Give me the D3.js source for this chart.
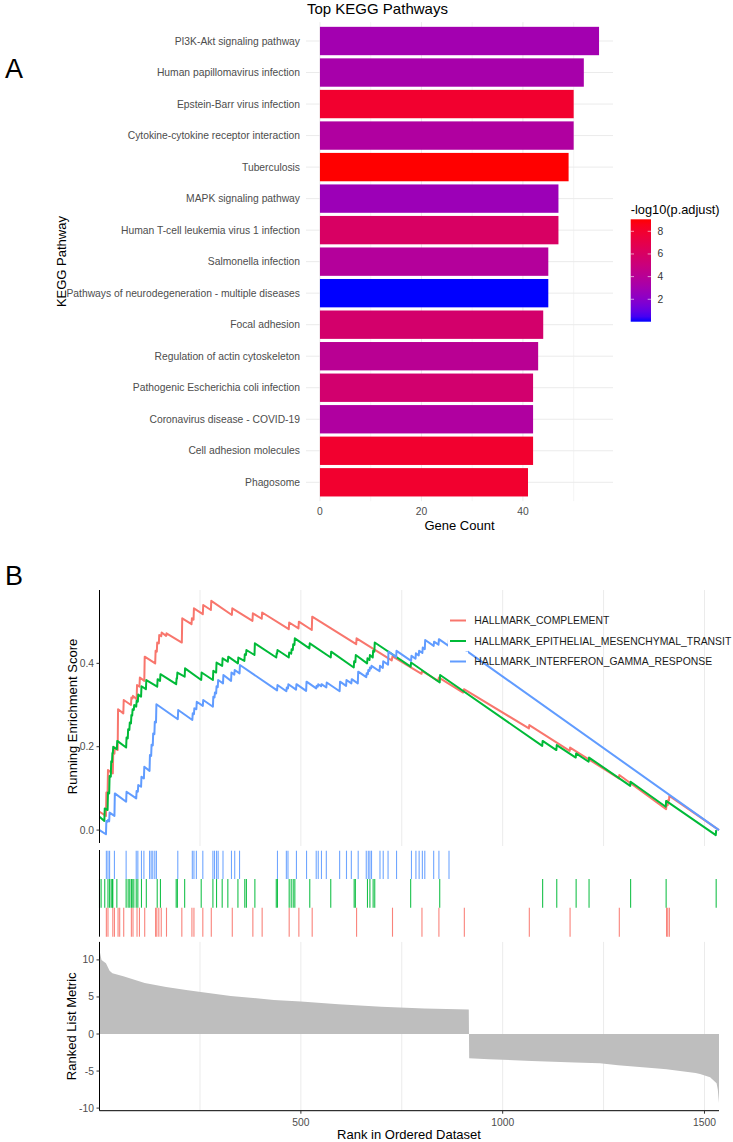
<!DOCTYPE html>
<html>
<head>
<meta charset="utf-8">
<script src="https://cdn.jsdelivr.net/npm/d3@7"></script>
<style>
  body { margin: 0; background: #fff; }
  svg { display: block; font-family: "Liberation Sans", Arial, Helvetica, sans-serif; }
</style>
</head>
<body>
<div id="chart"></div>
<script>
// ---- panel A data ----
const pathways = [
  "PI3K-Akt signaling pathway",
  "Human papillomavirus infection",
  "Epstein-Barr virus infection",
  "Cytokine-cytokine receptor interaction",
  "Tuberculosis",
  "MAPK signaling pathway",
  "Human T-cell leukemia virus 1 infection",
  "Salmonella infection",
  "Pathways of neurodegeneration - multiple diseases",
  "Focal adhesion",
  "Regulation of actin cytoskeleton",
  "Pathogenic Escherichia coli infection",
  "Coronavirus disease - COVID-19",
  "Cell adhesion molecules",
  "Phagosome"
];
const geneCounts = [55, 52, 50, 50, 49, 47, 47, 45, 45, 44, 43, 42, 42, 42, 41];
const negLogPadj = [3.0, 3.2, 8.0, 3.6, 9.06, 2.7, 6.0, 3.8, 0.02, 5.7, 4.1, 5.6, 3.6, 8.0, 8.0];
const countTicks = [0, 20, 40];
const countMinor = [10, 30, 50];
const legendTicks = [2, 4, 6, 8];

// ---- panel B data ----
const geneSets = [
  "HALLMARK_COMPLEMENT",
  "HALLMARK_EPITHELIAL_MESENCHYMAL_TRANSIT",
  "HALLMARK_INTERFERON_GAMMA_RESPONSE"
];
const setColors = ["#F8766D", "#00BA38", "#619CFF"];

// running enrichment score vertices [rank, score]
const complementES = [
  [1,0.044],[17,0.034],[18,0.09],[21,0.088],[22,0.144],[34,0.136],[35,0.185],[38,0.183],[39,0.198],
  [46,0.192],[47,0.29],[60,0.28],[61,0.312],[79,0.3],[80,0.318],[83,0.316],[84,0.322],[93,0.314],
  [94,0.348],[100,0.344],[101,0.366],[112,0.358],[113,0.416],[139,0.4],[140,0.43],[143,0.428],
  [144,0.45],[148,0.448],[149,0.468],[154,0.465],[155,0.474],[166,0.466],[167,0.472],[205,0.45],
  [206,0.508],[229,0.494],[230,0.508],[234,0.505],[235,0.532],[257,0.518],[258,0.54],[277,0.528],
  [278,0.55],[329,0.516],[330,0.532],[380,0.502],[381,0.52],[403,0.507],[404,0.522],[470,0.482],
  [471,0.498],[494,0.484],[495,0.5],[527,0.48],[528,0.512],[637,0.446],[638,0.46],[725,0.407],
  [727,0.417],[799,0.375],[800,0.382],[840,0.358],[842,0.366],[902,0.33],[904,0.338],[1065,0.244],
  [1066,0.252],[1166,0.19],[1167,0.198],[1288,0.124],[1289,0.132],[1405,0.05],[1406,0.062],
  [1409,0.06],[1410,0.072],[1412,0.071],[1413,0.082],[1536,0.0]
];
const emtES = [
  [1,0.032],[13,0.022],[14,0.052],[21,0.048],[22,0.09],[25,0.088],[26,0.13],[29,0.128],[30,0.165],
  [32,0.163],[33,0.185],[34,0.184],[35,0.2],[44,0.194],[45,0.214],[67,0.198],[68,0.222],[71,0.22],
  [72,0.242],[75,0.24],[76,0.258],[79,0.256],[80,0.276],[82,0.275],[83,0.29],[86,0.288],[87,0.3],
  [92,0.296],[93,0.31],[96,0.308],[97,0.325],[104,0.32],[105,0.345],[116,0.338],[117,0.36],
  [144,0.344],[145,0.362],[151,0.358],[152,0.374],[191,0.35],[192,0.364],[193,0.363],[194,0.378],
  [212,0.368],[213,0.388],[253,0.36],[254,0.378],[282,0.36],[283,0.382],[290,0.378],[291,0.402],
  [305,0.394],[306,0.412],[319,0.404],[320,0.416],[344,0.4],[345,0.414],[360,0.406],[361,0.422],
  [364,0.42],[365,0.432],[385,0.42],[386,0.448],[439,0.414],[440,0.424],[441,0.423],[442,0.432],
  [470,0.414],[471,0.426],[476,0.423],[477,0.434],[480,0.432],[481,0.446],[484,0.444],[485,0.46],
  [521,0.436],[522,0.448],[574,0.414],[575,0.428],[631,0.39],[632,0.405],[635,0.403],[636,0.42],
  [664,0.4],[665,0.412],[670,0.408],[671,0.42],[678,0.414],[679,0.43],[682,0.428],[683,0.45],
  [772,0.392],[773,0.402],[844,0.354],[845,0.372],[1098,0.202],[1099,0.214],[1133,0.192],
  [1134,0.204],[1181,0.174],[1182,0.184],[1213,0.164],[1214,0.174],[1316,0.106],[1317,0.116],
  [1404,0.056],[1405,0.07],[1528,-0.012],[1529,0.0]
];
const ifngES = [
  [1,0.0],[17,-0.01],[18,0.022],[21,0.02],[22,0.024],[25,0.021],[26,0.042],[38,0.034],[39,0.088],
  [67,0.068],[68,0.092],[92,0.076],[93,0.094],[96,0.092],[97,0.108],[104,0.104],[105,0.128],
  [111,0.124],[112,0.152],[125,0.142],[126,0.18],[129,0.178],[130,0.205],[133,0.203],[134,0.232],
  [137,0.23],[138,0.26],[141,0.258],[142,0.302],[195,0.266],[196,0.288],[231,0.264],[232,0.28],
  [235,0.278],[236,0.292],[241,0.29],[242,0.308],[257,0.298],[258,0.312],[282,0.296],[283,0.32],
  [286,0.318],[287,0.33],[290,0.328],[291,0.345],[294,0.343],[295,0.36],[307,0.352],[308,0.372],
  [327,0.358],[328,0.378],[335,0.373],[336,0.384],[348,0.376],[349,0.396],[441,0.335],[442,0.348],
  [464,0.333],[465,0.342],[468,0.34],[469,0.35],[488,0.337],[489,0.35],[513,0.334],[514,0.356],
  [538,0.34],[539,0.346],[542,0.344],[543,0.35],[550,0.345],[551,0.35],[563,0.342],[564,0.354],
  [596,0.333],[597,0.356],[612,0.346],[613,0.36],[625,0.352],[626,0.362],[641,0.352],[642,0.38],
  [662,0.367],[663,0.376],[666,0.374],[667,0.384],[670,0.382],[671,0.39],[674,0.388],[675,0.394],
  [695,0.381],[696,0.394],[703,0.389],[704,0.405],[716,0.397],[717,0.428],[736,0.415],[737,0.43],
  [773,0.406],[774,0.418],[784,0.411],[785,0.424],[792,0.419],[793,0.43],[801,0.425],[802,0.438],
  [807,0.434],[808,0.456],[829,0.442],[830,0.452],[841,0.445],[842,0.458],[866,0.442],[867,0.46],
  [1536,0.0]
];

// hit positions (rug)
const complementHits = [18,22,34,38,47,51,61,80,84,94,100,113,140,143,148,154,167,205,230,235,257,278,
  330,381,404,471,495,528,638,727,800,842,905,1066,1167,1289,1406,1409,1413];
const emtHits = [1,5,14,22,26,30,33,34,44,67,72,76,80,82,86,92,96,105,117,144,152,191,194,212,253,282,
  291,305,319,344,361,365,386,439,442,471,476,481,485,522,574,632,635,665,671,679,683,772,844,1099,
  1134,1182,1214,1317,1405,1529];
const ifngHits = [18,22,26,38,67,92,96,105,111,125,129,133,138,142,195,231,235,241,257,282,286,291,295,
  307,328,336,348,442,464,468,489,514,538,543,551,563,596,613,625,642,662,667,671,675,696,704,716,737,
  774,785,793,801,807,829,842,867];

// ranked list metric
const metricRank = [1,6,17,26,33,60,113,166,220,252,326,433,500,593,699,806,916,917,966,1072,1179,1241,
  1286,1392,1406,1478,1489,1514,1530,1533,1536];
const metricValue = [11.3,10,9.56,8.54,8.2,7.8,6.9,6.33,5.9,5.66,5.13,4.6,4.38,4.03,3.67,3.45,3.32,-3.27,
  -3.4,-3.63,-3.85,-3.96,-4.2,-4.7,-4.77,-5.25,-5.4,-5.84,-6.65,-7.5,-9.3];

const rankTicks = [500, 1000, 1500];
const rankGrid = [250, 500, 750, 1000, 1250, 1500];
const esTicks = [0, 0.2, 0.4];
const metricTicks = [-10, -5, 0, 5, 10];

const svg = d3.select("#chart")
  .append("svg")
  .attr("width", 733)
  .attr("height", 1142);

const grid = "#EBEBEB";
const axisText = "#4D4D4D";

drawKegg();
drawGsea();

function drawKegg() {
  const x = d3.scaleLinear().domain([-2.75, 57.75]).range([306, 613]);
  const y = d3.scaleBand().domain(pathways).range([22.1, 501.2])
    .paddingInner(0.1).paddingOuter(0.15);
  const fill = d3.scaleLinear().domain([0.02, 9.06]).range(["blue", "red"])
    .interpolate(d3.interpolateLab);

  svg.append("text").attr("x", 5).attr("y", 78)
    .style("font-size", "27px").text("A");

  svg.append("text").attr("x", 307).attr("y", 14)
    .style("font-size", "15px").text("Top KEGG Pathways");

  // grid
  svg.selectAll("line.kminor").data(countMinor).enter().append("line")
    .attr("x1", d => x(d)).attr("x2", d => x(d))
    .attr("y1", 22.1).attr("y2", 501.2)
    .attr("stroke", grid).attr("stroke-width", 0.5);
  svg.selectAll("line.kmajor").data(countTicks).enter().append("line")
    .attr("x1", d => x(d)).attr("x2", d => x(d))
    .attr("y1", 22.1).attr("y2", 501.2)
    .attr("stroke", grid).attr("stroke-width", 1);
  svg.selectAll("line.kband").data(pathways).enter().append("line")
    .attr("x1", 306).attr("x2", 613)
    .attr("y1", d => y(d) + y.bandwidth() / 2)
    .attr("y2", d => y(d) + y.bandwidth() / 2)
    .attr("stroke", grid).attr("stroke-width", 1);

  svg.selectAll("rect.bar").data(pathways).enter().append("rect")
    .attr("x", x(0))
    .attr("y", d => y(d))
    .attr("width", (d, i) => x(geneCounts[i]) - x(0))
    .attr("height", y.bandwidth())
    .attr("fill", (d, i) => fill(negLogPadj[i]));

  svg.selectAll("text.pname").data(pathways).enter().append("text")
    .attr("x", 300)
    .attr("y", d => y(d) + y.bandwidth() / 2)
    .attr("text-anchor", "end")
    .attr("dominant-baseline", "central")
    .style("font-size", "10.3px")
    .attr("fill", axisText)
    .text(d => d);

  svg.selectAll("text.ctick").data(countTicks).enter().append("text")
    .attr("x", d => x(d)).attr("y", 514.5)
    .attr("text-anchor", "middle")
    .style("font-size", "10.3px")
    .attr("fill", axisText)
    .text(d => d);

  svg.append("text").attr("x", 459.5).attr("y", 530)
    .attr("text-anchor", "middle").style("font-size", "13px")
    .text("Gene Count");

  svg.append("text")
    .attr("transform", "translate(65.5,261.6) rotate(-90)")
    .attr("text-anchor", "middle").style("font-size", "13px")
    .text("KEGG Pathway");

  // colour bar legend
  const ly = d3.scaleLinear().domain([0.02, 9.06]).range([321.7, 219.3]);
  const grad = svg.append("defs").append("linearGradient")
    .attr("id", "padjGrad").attr("x1", 0).attr("y1", 1).attr("x2", 0).attr("y2", 0);
  d3.range(0, 1.0001, 0.05).forEach(t => {
    grad.append("stop").attr("offset", t)
      .attr("stop-color", fill(0.02 + t * (9.06 - 0.02)));
  });
  svg.append("text").attr("x", 630.7).attr("y", 213.8)
    .style("font-size", "12.8px").text("-log10(p.adjust)");
  svg.append("rect").attr("x", 630.7).attr("y", 219.3)
    .attr("width", 20.3).attr("height", 102.4)
    .attr("fill", "url(#padjGrad)");
  legendTicks.forEach(v => {
    svg.append("line").attr("x1", 630.7).attr("x2", 634).attr("y1", ly(v)).attr("y2", ly(v))
      .attr("stroke", "white").attr("stroke-width", 0.6);
    svg.append("line").attr("x1", 647.7).attr("x2", 651).attr("y1", ly(v)).attr("y2", ly(v))
      .attr("stroke", "white").attr("stroke-width", 0.6);
  });
  svg.selectAll("text.ltick").data(legendTicks).enter().append("text")
    .attr("x", 657.5).attr("y", d => ly(d))
    .attr("dominant-baseline", "central")
    .style("font-size", "10.3px").attr("fill", "#333")
    .text(d => d);
}

function drawGsea() {
  const x = d3.scaleLinear().domain([1, 1536]).range([99.5, 719]);
  const esY = d3.scaleLinear().domain([-0.031, 0.576]).range([843, 590]);
  const metY = d3.scaleLinear().domain([-10.35, 12.43]).range([1110.7, 941.9]);

  svg.append("text").attr("x", 5).attr("y", 585)
    .style("font-size", "27px").text("B");

  // grid
  [[590, 846], [941.9, 1110.7]].forEach(([a, b]) => {
    svg.append("g").selectAll("line").data(rankGrid).enter().append("line")
      .attr("x1", d => x(d)).attr("x2", d => x(d))
      .attr("y1", a).attr("y2", b)
      .attr("stroke", grid).attr("stroke-width", 1);
  });

  // running score
  const line = d3.line().x(d => x(d[0])).y(d => esY(d[1]));
  [complementES, emtES, ifngES].forEach((pts, i) => {
    svg.append("path").datum(pts)
      .attr("d", line)
      .attr("fill", "none")
      .attr("stroke", setColors[i])
      .attr("stroke-width", 2)
      .attr("stroke-linejoin", "round");
  });

  // legend
  const rows = [620.5, 641, 661.5];
  geneSets.forEach((name, i) => {
    svg.append("rect").attr("x", 448).attr("y", rows[i] - 10)
      .attr("width", 20).attr("height", 20).attr("fill", "white");
    svg.append("line").attr("x1", 450).attr("x2", 466)
      .attr("y1", rows[i]).attr("y2", rows[i])
      .attr("stroke", setColors[i]).attr("stroke-width", 2);
    svg.append("text").attr("x", 474.3).attr("y", rows[i])
      .attr("dominant-baseline", "central")
      .style("font-size", "10.4px").attr("fill", "#1A1A1A")
      .text(name);
  });

  // hits
  const rugBands = [[907.7, 936.7], [879, 907.7], [850.7, 879]];
  [complementHits, emtHits, ifngHits].forEach((hits, i) => {
    svg.append("g").selectAll("line").data(hits).enter().append("line")
      .attr("x1", d => x(d)).attr("x2", d => x(d))
      .attr("y1", rugBands[i][0]).attr("y2", rugBands[i][1])
      .attr("stroke", setColors[i]).attr("stroke-width", 1.1)
      .attr("stroke-opacity", 0.9);
  });

  // ranked metric
  const metric = metricRank.map((r, i) => [r, metricValue[i]]);
  svg.append("path").datum(metric)
    .attr("d", d3.area().x(d => x(d[0])).y0(metY(0)).y1(d => metY(d[1])))
    .attr("fill", "#BEBEBE");

  // axes
  const axisLines = [[590, 843], [850, 936.7], [941.9, 1110.7]];
  axisLines.forEach(([a, b]) => {
    svg.append("line").attr("x1", 99.5).attr("x2", 99.5).attr("y1", a).attr("y2", b)
      .attr("stroke", "black").attr("stroke-width", 1);
  });
  svg.append("line").attr("x1", 99.5).attr("x2", 719).attr("y1", 1110.7).attr("y2", 1110.7)
    .attr("stroke", "black").attr("stroke-width", 1);

  svg.append("g").selectAll("line").data(esTicks).enter().append("line")
    .attr("x1", 96.5).attr("x2", 99.5).attr("y1", d => esY(d)).attr("y2", d => esY(d))
    .attr("stroke", "#333");
  svg.append("g").selectAll("text").data(esTicks).enter().append("text")
    .attr("x", 94).attr("y", d => esY(d))
    .attr("text-anchor", "end").attr("dominant-baseline", "central")
    .style("font-size", "10.3px").attr("fill", axisText)
    .text(d3.format(".1f"));

  svg.append("g").selectAll("line").data(metricTicks).enter().append("line")
    .attr("x1", 96.5).attr("x2", 99.5).attr("y1", d => metY(d)).attr("y2", d => metY(d))
    .attr("stroke", "#333");
  svg.append("g").selectAll("text").data(metricTicks).enter().append("text")
    .attr("x", 94).attr("y", d => metY(d))
    .attr("text-anchor", "end").attr("dominant-baseline", "central")
    .style("font-size", "10.3px").attr("fill", axisText)
    .text(d => d);

  svg.append("g").selectAll("line").data(rankTicks).enter().append("line")
    .attr("x1", d => x(d)).attr("x2", d => x(d)).attr("y1", 1110.7).attr("y2", 1113.7)
    .attr("stroke", "#333");
  svg.append("g").selectAll("text").data(rankTicks).enter().append("text")
    .attr("x", d => x(d)).attr("y", 1125.5)
    .attr("text-anchor", "middle")
    .style("font-size", "10.3px").attr("fill", axisText)
    .text(d => d);

  svg.append("text")
    .attr("transform", "translate(76.5,716.5) rotate(-90)")
    .attr("text-anchor", "middle").style("font-size", "13px")
    .text("Running Enrichment Score");
  svg.append("text")
    .attr("transform", "translate(75.5,1026.3) rotate(-90)")
    .attr("text-anchor", "middle").style("font-size", "13px")
    .text("Ranked List Metric");
  svg.append("text").attr("x", 409).attr("y", 1139)
    .attr("text-anchor", "middle").style("font-size", "13px")
    .text("Rank in Ordered Dataset");
}
</script>
</body>
</html>
